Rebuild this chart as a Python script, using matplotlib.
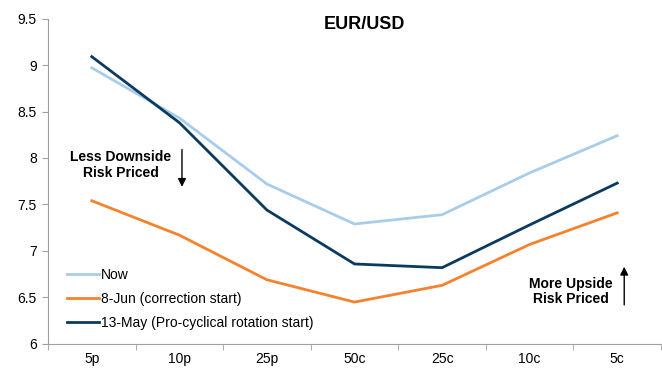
import matplotlib.pyplot as plt
import numpy as np

plt.rcParams['font.family'] = ['Liberation Sans', 'DejaVu Sans']

strikes = ['5p', '10p', '25p', '50c', '25c', '10c', '5c']
now = [8.97, 8.43, 7.72, 7.29, 7.39, 7.84, 8.24]
jun8 = [7.54, 7.17, 6.69, 6.45, 6.63, 7.07, 7.41]
may13 = [9.09, 8.38, 7.44, 6.86, 6.82, 7.28, 7.73]

x = np.arange(len(strikes))

fig = plt.figure(figsize=(6.62, 3.71), dpi=100)
ax = fig.add_axes([0.0725, 0.073, 0.926, 0.877])

ax.plot(x, now, color='#a7cdea', lw=2, label='Now')
ax.plot(x, jun8, color='#f5822c', lw=2, label='8-Jun (correction start)')
ax.plot(x, may13, color='#0b3a5f', lw=2, label='13-May (Pro-cyclical rotation start)')

ax.set_xlim(-0.5, len(strikes) - 0.5)
ax.set_ylim(6, 9.5)
ax.set_yticks(np.arange(6, 9.51, 0.5))
ax.set_yticklabels(['6', '6.5', '7', '7.5', '8', '8.5', '9', '9.5'])
ax.set_xticks(x)
ax.set_xticklabels(strikes)
# tick marks sit between categories, labels under the categories
ax.set_xticks(np.arange(-0.5, len(strikes)), minor=True)
ax.tick_params(axis='x', which='major', length=0, pad=6, labelsize=10)
ax.tick_params(axis='x', which='minor', length=4, color='#a0a0a0', direction='out')
ax.tick_params(axis='y', length=4, color='#a0a0a0', labelsize=10, pad=4)

for s in ['top', 'right']:
    ax.spines[s].set_visible(False)
for s in ['left', 'bottom']:
    ax.spines[s].set_color('#a0a0a0')

ax.text(0.517, 0.983, 'EUR/USD', transform=ax.transAxes, ha='center', va='center',
        fontsize=13, fontweight='bold')

ax.legend(loc='lower left', frameon=False, fontsize=10, handlelength=2.3,
          handletextpad=0.15, labelspacing=0.7, bbox_to_anchor=(0.01, 0.005))

ax.text(0.33, 7.925, 'Less Downside\nRisk Priced', ha='center', va='center',
        fontsize=10, fontweight='bold', linespacing=1.1)
ax.annotate('', xy=(1.03, 7.66), xytext=(1.03, 8.12),
            arrowprops=dict(arrowstyle='-|>', color='black', lw=1, mutation_scale=12))

ax.text(5.47, 6.56, 'More Upside\nRisk Priced', ha='center', va='center',
        fontsize=10, fontweight='bold', linespacing=1.1)
ax.annotate('', xy=(6.08, 6.86), xytext=(6.08, 6.39),
            arrowprops=dict(arrowstyle='-|>', color='black', lw=1, mutation_scale=12))

fig.savefig('out.png', dpi=100)
